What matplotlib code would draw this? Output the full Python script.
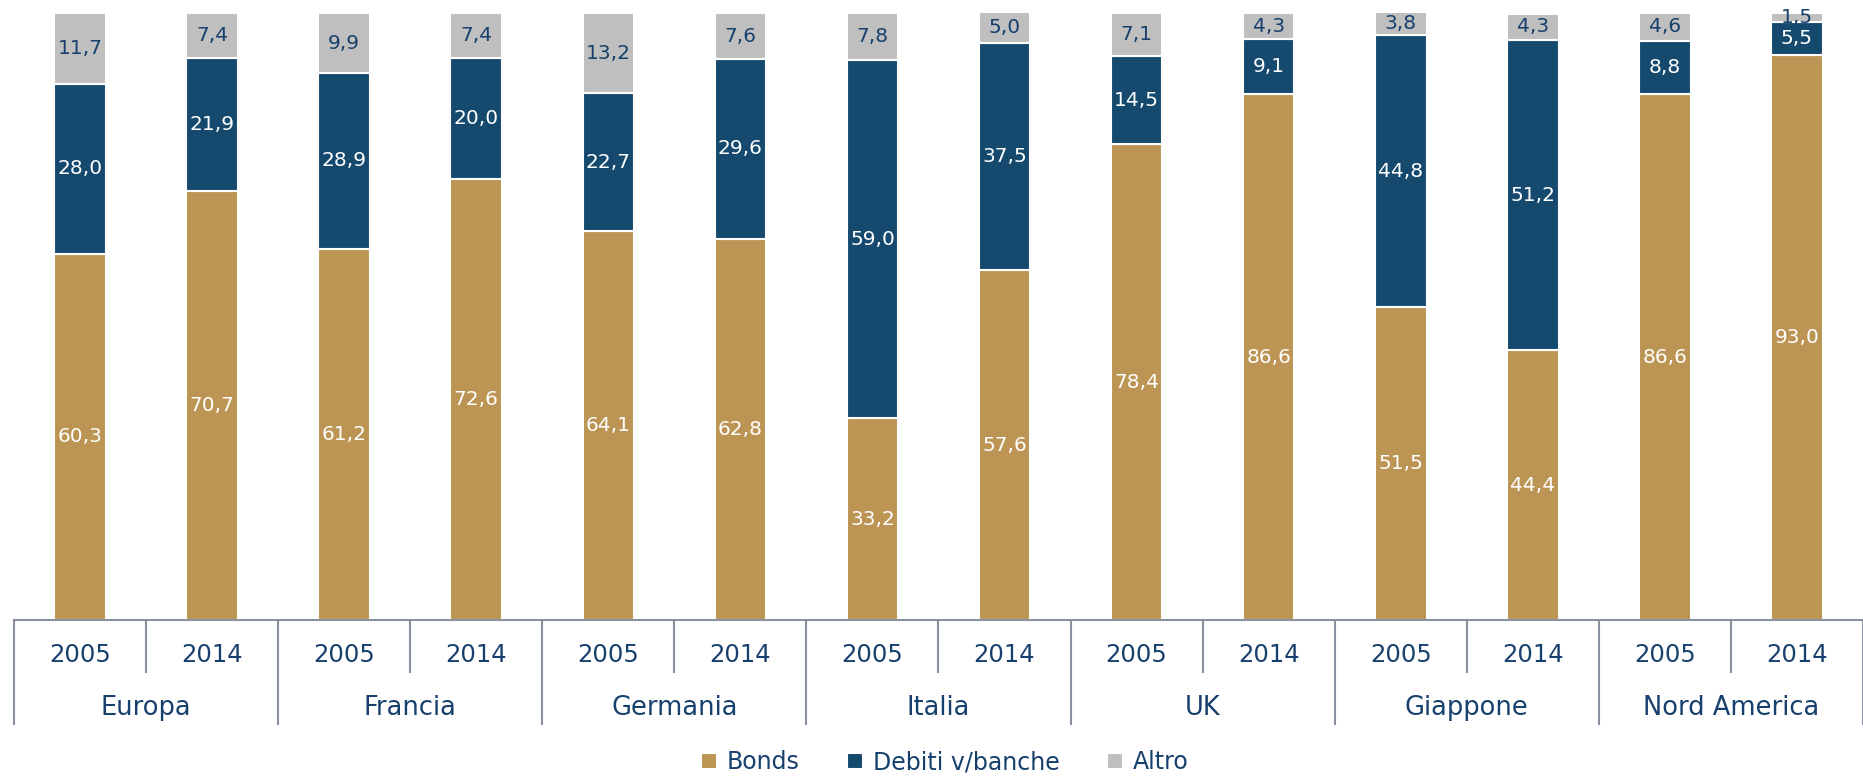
import matplotlib.pyplot as plt
import numpy as np

# data (percent shares)
countries = ["Europa", "Francia", "Germania", "Italia", "UK", "Giappone", "Nord America"]
years = ["2005", "2014"]
bonds = [60.3, 70.7, 61.2, 72.6, 64.1, 62.8, 33.2, 57.6, 78.4, 86.6, 51.5, 44.4, 86.6, 93.0]
debiti = [28.0, 21.9, 28.9, 20.0, 22.7, 29.6, 59.0, 37.5, 14.5, 9.1, 44.8, 51.2, 8.8, 5.5]
altro = [11.7, 7.4, 9.9, 7.4, 13.2, 7.6, 7.8, 5.0, 7.1, 4.3, 3.8, 4.3, 4.6, 1.5]

TAN = "#BC9555"
NAVY = "#154A6E"
GREY = "#BFBFBF"
TXT = "#17406D"
LINE = "#8A90A0"

plt.rcParams['font.family'] = ['DejaVu Sans']

fig = plt.figure(figsize=(18.63, 7.76), dpi=100)
ax = fig.add_axes([14 / 1863, 1 - 620 / 776, 1 - 14 / 1863, 607 / 776])

x = np.arange(len(bonds))
w = 0.39
b = np.array(bonds)
d = np.array(debiti)
a = np.array(altro)

ax.bar(x, b, w, color=TAN, edgecolor="white", linewidth=1.5, label="Bonds")
ax.bar(x, d, w, bottom=b, color=NAVY, edgecolor="white", linewidth=1.5, label="Debiti v/banche")
ax.bar(x, a, w, bottom=b + d, color=GREY, edgecolor="white", linewidth=1.5, label="Altro")

def fmt(v):
    return f"{v:.1f}".replace(".", ",")

for i in range(len(x)):
    ax.text(x[i], b[i] / 2, fmt(b[i]), ha="center", va="center", color="white", fontsize=14.5)
    ax.text(x[i], b[i] + d[i] / 2, fmt(d[i]), ha="center", va="center", color="white", fontsize=14.5)
    ax.text(x[i], b[i] + d[i] + a[i] / 2, fmt(a[i]), ha="center", va="center", color=TXT, fontsize=14.5)

ax.set_xlim(-0.5, len(x) - 0.5)
ax.set_ylim(0, 100)
ax.set_yticks([])
ax.set_xticks([])
for s in ["top", "right", "left"]:
    ax.spines[s].set_visible(False)
ax.spines["bottom"].set_color(LINE)
ax.spines["bottom"].set_linewidth(1.5)

# two-level category axis
tr = ax.get_xaxis_transform()
for i in range(len(x)):
    ax.text(x[i], -0.058, years[i % 2], transform=tr, ha="center", va="center",
            color=TXT, fontsize=17.5)
for j, c in enumerate(countries):
    ax.text(2 * j + 0.5, -0.145, c, transform=tr, ha="center", va="center",
            color=TXT, fontsize=18.5)
    ax.plot([2 * j + 0.5, 2 * j + 0.5], [0, -0.0857], transform=tr, color=LINE,
            lw=1.5, clip_on=False)
for j in range(len(countries) + 1):
    ax.plot([2 * j - 0.5, 2 * j - 0.5], [0, -0.171], transform=tr, color=LINE,
            lw=1.5, clip_on=False)

fig.legend(loc="center", bbox_to_anchor=(0.507, 0.018), ncol=3, frameon=False,
           fontsize=17, handlelength=0.7, handleheight=0.7, handletextpad=0.4,
           columnspacing=2.0, labelcolor=TXT)

fig.savefig("out.png", dpi=100)
